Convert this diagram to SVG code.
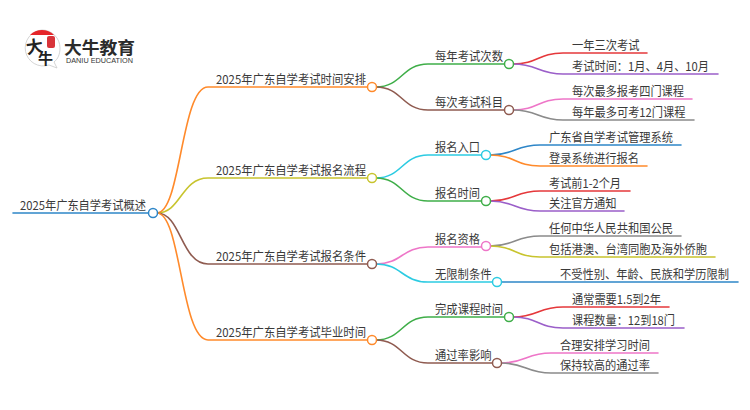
<svg xmlns="http://www.w3.org/2000/svg" width="750" height="410" viewBox="0 0 750 410">
<style>
text{font-family:"Noto Sans CJK SC","Noto Sans",sans-serif;fill:#3a3a3a}
.t{font-size:12.4px}
.c{fill:none;stroke-width:1.6;stroke-linecap:round}
.n{fill:#fff;stroke-width:1.5}
.org{stroke:#ff8a2b}.blu{stroke:#2e86c8}.oli{stroke:#c8c42e}.brn{stroke:#8f5b50}.grn{stroke:#3fae49}.cyn{stroke:#2ccbe2}.red{stroke:#e5383b}.pur{stroke:#9b5fc9}.pnk{stroke:#ee76c8}.gry{stroke:#8b8b8b}
</style>
<g id="connectors">
<path class="c org" d="M157,213C181,213 181,87 208,87H367"/>
<path class="c oli" d="M157,213C181,213 181,178 208,178H367"/>
<path class="c brn" d="M157,213C181,213 181,264 208,264H367"/>
<path class="c org" d="M157,213C181,213 181,340 208,340H367"/>
<path class="c blu" d="M13,213H149"/>
<path class="c grn" d="M376,87C402,87 402,64 428,64H504"/>
<path class="c brn" d="M376,87C402,87 402,110 428,110H504"/>
<path class="c cyn" d="M376,178C402,178 402,155 428,155H481"/>
<path class="c grn" d="M376,178C402,178 402,201 428,201H481"/>
<path class="c pnk" d="M376,264C402,264 402,247 428,247H481"/>
<path class="c cyn" d="M376,264C402,264 402,282 428,282H492"/>
<path class="c grn" d="M376,340C402,340 402,317 428,317H504"/>
<path class="c brn" d="M376,340C402,340 402,363 428,363H492"/>
<path class="c red" d="M513,64C538,64 538,53 563,53H647"/>
<path class="c pur" d="M513,64C538,64 538,74 563,74H718"/>
<path class="c pnk" d="M513,110C538,110 538,99 563,99H692"/>
<path class="c gry" d="M513,110C538,110 538,120 563,120H694"/>
<path class="c blu" d="M490,155C515,155 515,145 540,145H681"/>
<path class="c org" d="M490,155C515,155 515,166 540,166H647"/>
<path class="c red" d="M490,201C515,201 515,191 540,191H630"/>
<path class="c pur" d="M490,201C515,201 515,211 540,211H624"/>
<path class="c gry" d="M490,246C515,246 515,236 540,236H681"/>
<path class="c oli" d="M490,246C515,246 515,257 540,257H715"/>
<path class="c blu" d="M501,282H738"/>
<path class="c red" d="M513,317C538,317 538,307 563,307H669"/>
<path class="c pur" d="M513,317C538,317 538,328 563,328H684"/>
<path class="c pnk" d="M501,363C526,363 526,353 551,353H658"/>
<path class="c gry" d="M501,363C526,363 526,373 551,373H658"/>
</g>
<g id="logo">
<path d="M42,30a18,18 0 0 1 18,18c0,6 -2,11 -6,14l3,6l-8,-3a18,18 0 1 1 -7,-35z" fill="#fff" stroke="#c9c9c9" stroke-width="0.8"/>
<path d="M30,35a17,17 0 0 1 24,0z" fill="#e5252a"/>
<rect x="47" y="36" width="8" height="12" rx="2" fill="#d8343a"/>
<text x="26" y="53" style="font-size:17px;font-weight:700;fill:#222" transform="rotate(-8 34 47)">大</text>
<text x="38" y="64" style="font-size:15px;font-weight:700;fill:#222">牛</text>
<text x="64" y="53.5" style="font-size:17.5px;font-weight:700;fill:#2b2b2b" textLength="71" lengthAdjust="spacingAndGlyphs">大牛教育</text>
<text x="66" y="63" style="font-size:6.6px;font-family:'Liberation Sans',sans-serif;fill:#333" textLength="67" lengthAdjust="spacingAndGlyphs">DANIU EDUCATION</text>
</g>
<g id="root"><text class="t" x="20" y="210" textLength="126" lengthAdjust="spacingAndGlyphs">2025年广东自学考试概述</text><circle class="n blu" cx="153" cy="213" r="4.5"/></g>
<g id="n1"><text class="t" x="216" y="84" textLength="150" lengthAdjust="spacingAndGlyphs">2025年广东自学考试时间安排</text><circle class="n org" cx="372" cy="87" r="4.5"/></g>
<g id="n2"><text class="t" x="216" y="175" textLength="150" lengthAdjust="spacingAndGlyphs">2025年广东自学考试报名流程</text><circle class="n oli" cx="372" cy="178" r="4.5"/></g>
<g id="n3"><text class="t" x="216" y="261" textLength="150" lengthAdjust="spacingAndGlyphs">2025年广东自学考试报名条件</text><circle class="n brn" cx="372" cy="264" r="4.5"/></g>
<g id="n4"><text class="t" x="216" y="337" textLength="150" lengthAdjust="spacingAndGlyphs">2025年广东自学考试毕业时间</text><circle class="n org" cx="372" cy="340" r="4.5"/></g>
<g id="n11"><text class="t" x="435" y="61" textLength="68" lengthAdjust="spacingAndGlyphs">每年考试次数</text><circle class="n grn" cx="509" cy="64" r="4.5"/></g>
<g id="n12"><text class="t" x="435" y="107" textLength="68" lengthAdjust="spacingAndGlyphs">每次考试科目</text><circle class="n brn" cx="509" cy="110" r="4.5"/></g>
<g id="n21"><text class="t" x="435" y="152" textLength="45" lengthAdjust="spacingAndGlyphs">报名入口</text><circle class="n cyn" cx="486" cy="155" r="4.5"/></g>
<g id="n22"><text class="t" x="435" y="198" textLength="45" lengthAdjust="spacingAndGlyphs">报名时间</text><circle class="n grn" cx="486" cy="201" r="4.5"/></g>
<g id="n31"><text class="t" x="435" y="244" textLength="45" lengthAdjust="spacingAndGlyphs">报名资格</text><circle class="n pnk" cx="486" cy="246" r="4.5"/></g>
<g id="n32"><text class="t" x="435" y="279" textLength="56.5" lengthAdjust="spacingAndGlyphs">无限制条件</text><circle class="n cyn" cx="497" cy="282" r="4.5"/></g>
<g id="n41"><text class="t" x="435" y="314" textLength="68" lengthAdjust="spacingAndGlyphs">完成课程时间</text><circle class="n grn" cx="509" cy="317" r="4.5"/></g>
<g id="n42"><text class="t" x="435" y="360" textLength="56.5" lengthAdjust="spacingAndGlyphs">通过率影响</text><circle class="n brn" cx="497" cy="363" r="4.5"/></g>
<g id="l111"><text class="t" x="572" y="50" textLength="67.5" lengthAdjust="spacingAndGlyphs">一年三次考试</text></g>
<g id="l112"><text class="t" x="572" y="71" textLength="137" lengthAdjust="spacingAndGlyphs">考试时间：1月、4月、10月</text></g>
<g id="l121"><text class="t" x="572" y="96" textLength="112" lengthAdjust="spacingAndGlyphs">每次最多报考四门课程</text></g>
<g id="l122"><text class="t" x="572" y="117" textLength="113.5" lengthAdjust="spacingAndGlyphs">每年最多可考12门课程</text></g>
<g id="l211"><text class="t" x="549" y="142" textLength="124" lengthAdjust="spacingAndGlyphs">广东省自学考试管理系统</text></g>
<g id="l212"><text class="t" x="549" y="163" textLength="90" lengthAdjust="spacingAndGlyphs">登录系统进行报名</text></g>
<g id="l221"><text class="t" x="549" y="188" textLength="72" lengthAdjust="spacingAndGlyphs">考试前1-2个月</text></g>
<g id="l222"><text class="t" x="549" y="208" textLength="67.5" lengthAdjust="spacingAndGlyphs">关注官方通知</text></g>
<g id="l311"><text class="t" x="549" y="233" textLength="124" lengthAdjust="spacingAndGlyphs">任何中华人民共和国公民</text></g>
<g id="l312"><text class="t" x="549" y="254" textLength="158" lengthAdjust="spacingAndGlyphs">包括港澳、台湾同胞及海外侨胞</text></g>
<g id="l321"><text class="t" x="560" y="279" textLength="169" lengthAdjust="spacingAndGlyphs">不受性别、年龄、民族和学历限制</text></g>
<g id="l411"><text class="t" x="572" y="304" textLength="89" lengthAdjust="spacingAndGlyphs">通常需要1.5到2年</text></g>
<g id="l412"><text class="t" x="572" y="325" textLength="103" lengthAdjust="spacingAndGlyphs">课程数量：12到18门</text></g>
<g id="l421"><text class="t" x="560" y="350" textLength="90" lengthAdjust="spacingAndGlyphs">合理安排学习时间</text></g>
<g id="l422"><text class="t" x="560" y="370" textLength="90" lengthAdjust="spacingAndGlyphs">保持较高的通过率</text></g>
</svg>
